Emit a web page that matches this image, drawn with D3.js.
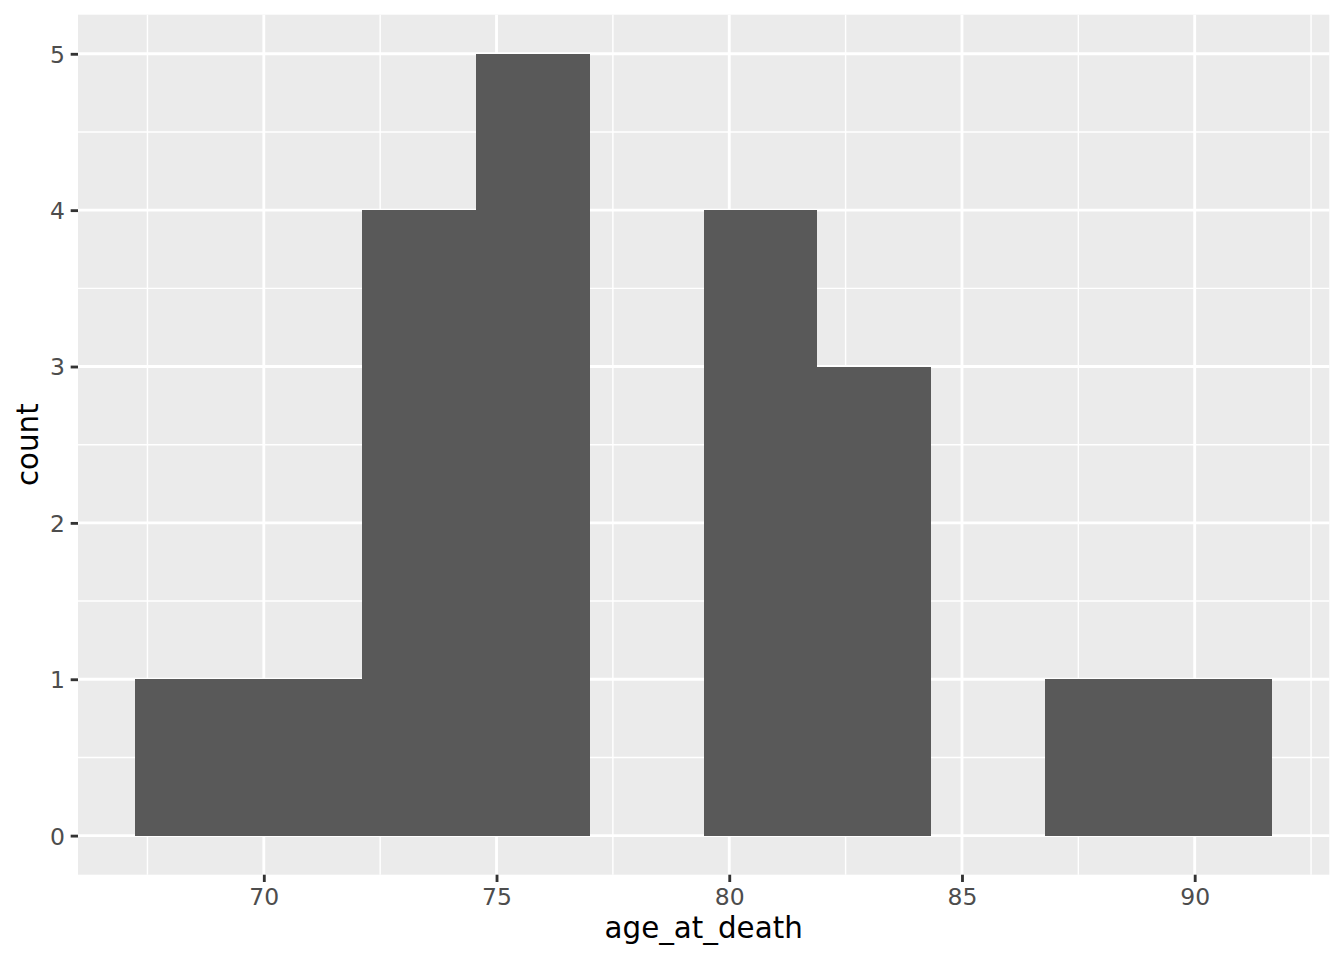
<!DOCTYPE html>
<html>
<head>
<meta charset="utf-8">
<script src="https://cdn.jsdelivr.net/npm/d3@7"></script>
<style>
  html, body { margin: 0; padding: 0; background: #ffffff; }
  svg { display: block; }
</style>
</head>
<body>
<script>
// ---- data ----
const binEdges = [67.23, 69.67, 72.12, 74.56, 77.00, 79.45, 81.89, 84.34, 86.78, 89.22, 91.67];
const counts   = [1, 1, 4, 5, 0, 4, 3, 0, 1, 1];
const xTicks = [70, 75, 80, 85, 90];
const xMinor = [67.5, 72.5, 77.5, 82.5, 87.5, 92.5];
const yTicks = [0, 1, 2, 3, 4, 5];
const yMinor = [0.5, 1.5, 2.5, 3.5, 4.5];
const xTitle = "age_at_death";
const yTitle = "count";

const W = 1344, H = 960;
const panel = { left: 78, right: 1329.3, top: 14.7, bottom: 874.7 };

const svg = d3.select("body").append("svg").attr("width", W).attr("height", H);
svg.append("rect").attr("width", W).attr("height", H).attr("fill", "#ffffff");

const xMin = binEdges[0], xMax = binEdges[binEdges.length - 1];
const xPad = (xMax - xMin) * 0.05;
const x = d3.scaleLinear().domain([xMin - xPad, xMax + xPad]).range([panel.left, panel.right]);
const yMaxData = d3.max(counts);
const yPad = yMaxData * 0.05;
const y = d3.scaleLinear().domain([-yPad, yMaxData + yPad]).range([panel.bottom, panel.top]);

const bins = counts.map((c, i) => ({ x0: binEdges[i], x1: binEdges[i + 1], count: c }));

// panel background
svg.append("rect")
  .attr("x", panel.left).attr("y", panel.top)
  .attr("width", panel.right - panel.left).attr("height", panel.bottom - panel.top)
  .attr("fill", "#EBEBEB");

const grid = svg.append("g");
const minorW = 1.42, majorW = 2.85;
grid.selectAll(".vminor").data(xMinor.filter(v => x(v) >= panel.left && x(v) <= panel.right)).enter().append("line")
  .attr("x1", d => x(d)).attr("x2", d => x(d)).attr("y1", panel.top).attr("y2", panel.bottom)
  .attr("stroke", "#ffffff").attr("stroke-width", minorW);
grid.selectAll(".hminor").data(yMinor).enter().append("line")
  .attr("y1", d => y(d)).attr("y2", d => y(d)).attr("x1", panel.left).attr("x2", panel.right)
  .attr("stroke", "#ffffff").attr("stroke-width", minorW);
grid.selectAll(".vmajor").data(xTicks).enter().append("line")
  .attr("x1", d => x(d)).attr("x2", d => x(d)).attr("y1", panel.top).attr("y2", panel.bottom)
  .attr("stroke", "#ffffff").attr("stroke-width", majorW);
grid.selectAll(".hmajor").data(yTicks).enter().append("line")
  .attr("y1", d => y(d)).attr("y2", d => y(d)).attr("x1", panel.left).attr("x2", panel.right)
  .attr("stroke", "#ffffff").attr("stroke-width", majorW);

// bars
svg.append("g").attr("shape-rendering", "crispEdges")
  .selectAll("rect").data(bins.filter(b => b.count > 0)).enter().append("rect")
  .attr("x", d => x(d.x0))
  .attr("width", d => x(d.x1) - x(d.x0))
  .attr("y", d => y(d.count))
  .attr("height", d => y(0) - y(d.count))
  .attr("fill", "#595959");

// axes
const font = "'DejaVu Sans', sans-serif";
const tickLen = 7.33, tickPad = 5.87;

const xAxis = d3.axisBottom(x).tickValues(xTicks).tickSize(tickLen).tickPadding(tickPad).tickFormat(d3.format("d"));
const gx = svg.append("g").attr("transform", `translate(0,${panel.bottom})`).call(xAxis);
gx.select(".domain").remove();
gx.selectAll(".tick line").attr("stroke", "#333333").attr("stroke-width", majorW);
gx.selectAll(".tick text").attr("fill", "#4D4D4D").attr("font-family", font).attr("font-size", 23.47)
  .attr("dy", null).attr("y", null).attr("transform", `translate(0,${tickLen + tickPad + 17.1})`);

const yAxis = d3.axisLeft(y).tickValues(yTicks).tickSize(tickLen).tickPadding(tickPad).tickFormat(d3.format("d"));
const gy = svg.append("g").attr("transform", `translate(${panel.left},0)`).call(yAxis);
gy.select(".domain").remove();
gy.selectAll(".tick line").attr("stroke", "#333333").attr("stroke-width", majorW);
gy.selectAll(".tick text").attr("fill", "#4D4D4D").attr("font-family", font).attr("font-size", 23.47)
  .attr("dy", "0.36em");

// titles
svg.append("text")
  .attr("x", (panel.left + panel.right) / 2).attr("y", 938)
  .attr("text-anchor", "middle").attr("font-family", font).attr("font-size", 29.33)
  .attr("fill", "#000000").text(xTitle);
svg.append("text")
  .attr("transform", `translate(38,${(panel.top + panel.bottom) / 2}) rotate(-90)`)
  .attr("text-anchor", "middle").attr("font-family", font).attr("font-size", 29.33)
  .attr("fill", "#000000").text(yTitle);
</script>
</body>
</html>
